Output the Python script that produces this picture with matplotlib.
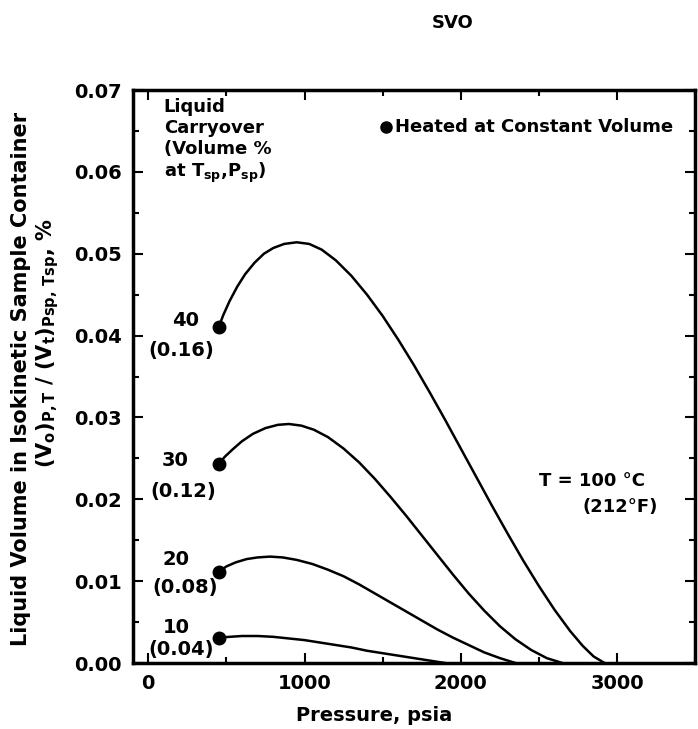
import numpy as np
import matplotlib.pyplot as plt
from matplotlib.ticker import MultipleLocator

# curves: pressure (psia) vs liquid volume fraction
p40 = [450, 480, 520, 570, 620, 680, 740, 800, 870, 950, 1030, 1110, 1200, 1300, 1400,
       1500, 1600, 1700, 1800, 1900, 2000, 2100, 2200, 2300, 2400, 2500, 2600, 2700,
       2780, 2850, 2920]
v40 = [0.0410, 0.0425, 0.0442, 0.0460, 0.0475, 0.0489, 0.0500, 0.0507, 0.0512, 0.0514,
       0.0512, 0.0505, 0.0492, 0.0473, 0.0450, 0.0424, 0.0395, 0.0364, 0.0331, 0.0297,
       0.0262, 0.0227, 0.0192, 0.0158, 0.0125, 0.0094, 0.0065, 0.0039, 0.0021, 0.0008, 0.0]

p30 = [450, 490, 540, 600, 670, 750, 830, 900, 980, 1060, 1150, 1250, 1350, 1450, 1550,
       1650, 1750, 1850, 1950, 2050, 2150, 2250, 2350, 2450, 2550, 2650]
v30 = [0.0243, 0.0252, 0.0261, 0.0271, 0.0280, 0.0287, 0.0291, 0.0292, 0.0290, 0.0285,
       0.0276, 0.0262, 0.0245, 0.0225, 0.0203, 0.0180, 0.0156, 0.0132, 0.0108, 0.0085,
       0.0064, 0.0045, 0.0029, 0.0016, 0.0006, 0.0]

p20 = [450, 500, 560, 630, 700, 780, 860, 950, 1050, 1150, 1250, 1350, 1450, 1550, 1650,
       1750, 1850, 1950, 2050, 2150, 2250, 2350]
v20 = [0.0111, 0.0118, 0.0123, 0.0127, 0.0129, 0.0130, 0.0129, 0.0126, 0.0121, 0.0114,
       0.0106, 0.0096, 0.0085, 0.0074, 0.0063, 0.0052, 0.0041, 0.0031, 0.0022, 0.0013,
       0.0006, 0.0]

p10 = [450, 520, 600, 700, 800, 900, 1000, 1100, 1200, 1300, 1400, 1500, 1600, 1700,
       1800, 1900]
v10 = [0.0031, 0.0032, 0.0033, 0.0033, 0.0032, 0.0030, 0.0028, 0.0025, 0.0022, 0.0019,
       0.0015, 0.0012, 0.0009, 0.0006, 0.0003, 0.0]

curve_labels = ['40', '30', '20', '10']
curve_sub = ['(0.16)', '(0.12)', '(0.08)', '(0.04)']
label_pos = [(237, 0.0418), (173, 0.0247), (180, 0.0127), (180, 0.0043)]
sub_pos = [(212, 0.0382), (224, 0.0210), (237, 0.0092), (212, 0.0017)]

plt.rcParams['font.family'] = 'DejaVu Sans'
plt.rcParams['font.weight'] = 'bold'
plt.rcParams['axes.labelweight'] = 'bold'
plt.rcParams['mathtext.default'] = 'bf'

fig = plt.figure(figsize=(6.98, 7.29), dpi=100)
ax = fig.add_axes([0.19, 0.0905, 0.806, 0.786])

for p, v in [(p40, v40), (p30, v30), (p20, v20), (p10, v10)]:
    ax.plot(p, v, color='black', lw=1.8, solid_joinstyle='round')
    ax.plot(p[0], v[0], 'o', color='black', ms=9)

for lab, pos in zip(curve_labels, label_pos):
    ax.text(pos[0], pos[1], lab, ha='center', va='center', fontsize=14)
for lab, pos in zip(curve_sub, sub_pos):
    ax.text(pos[0], pos[1], lab, ha='center', va='center', fontsize=14)

ax.text(100, 0.0690, 'Liquid\nCarryover\n(Volume %\nat T$_{sp}$,P$_{sp}$)',
        ha='left', va='top', fontsize=13, linespacing=1.2)
ax.plot(1520, 0.0655, 'o', color='black', ms=8)
ax.text(1580, 0.0655, 'Heated at Constant Volume', ha='left', va='center', fontsize=13)
ax.text(2500, 0.0222, 'T = 100 °C', ha='left', va='center', fontsize=13)
ax.text(2780, 0.0190, '(212°F)', ha='left', va='center', fontsize=13)

ax.set_xlim(-100, 3500)
ax.set_ylim(0, 0.07)
ax.xaxis.set_major_locator(MultipleLocator(1000))
ax.xaxis.set_minor_locator(MultipleLocator(500))
ax.yaxis.set_major_locator(MultipleLocator(0.01))
ax.yaxis.set_minor_locator(MultipleLocator(0.005))
ax.yaxis.set_major_formatter(plt.FormatStrFormatter('%.2f'))
ax.tick_params(which='both', direction='in', top=True, right=True, labelsize=14, width=1.5)
ax.tick_params(which='major', length=7, pad=8)
ax.tick_params(which='minor', length=4)
for s in ax.spines.values():
    s.set_linewidth(2.5)

ax.set_xlabel('Pressure, psia', fontsize=14)
ax.xaxis.set_label_coords(0.43, -0.075)

fig.text(0.03, 0.48, 'Liquid Volume in Isokinetic Sample Container', rotation=90,
         ha='center', va='center', fontsize=15)
fig.text(0.068, 0.53, '(V$_o$)$_{P,T}$ / (V$_t$)$_{Psp,\\,Tsp}$, %', rotation=90,
         ha='center', va='center', fontsize=15)
fig.text(0.649, 0.968, 'SVO', ha='center', va='center', fontsize=13)

fig.savefig('out.png', dpi=100)
